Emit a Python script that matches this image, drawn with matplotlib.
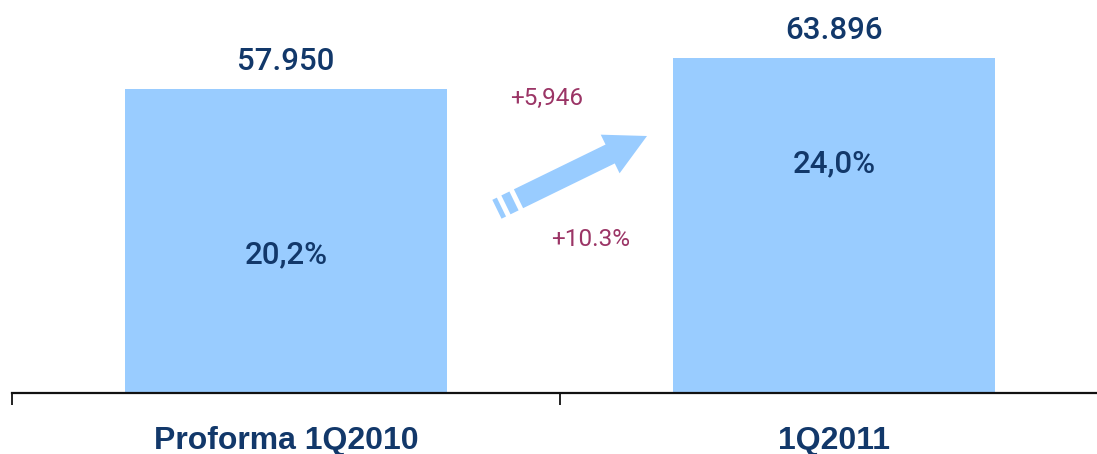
import matplotlib
matplotlib.use("Agg")
import matplotlib.pyplot as plt
import numpy as np
from matplotlib.patches import Polygon

# data
categories = ["Proforma 1Q2010", "1Q2011"]
values = [57950, 63896]
value_labels = ["57.950", "63.896"]
share_labels = ["20,2%", "24,0%"]
delta_abs = "+5,946"
delta_pct = "+10.3%"

# where the share text sits inside each bar (fraction of bar height)
share_pos = [0.455, 0.686]

bar_color = "#99CCFF"
navy = "#12386A"
plum = "#9B3566"

W, H = 1097, 454
fig = plt.figure(figsize=(W / 100, H / 100), dpi=100)
ax = fig.add_axes([12 / W, 61 / H, 1096 / W, 393 / H])

x = np.arange(len(categories))
ax.bar(x, values, width=0.588, color=bar_color, zorder=2)
ax.set_xlim(-0.5, 1.5)
ax.set_ylim(0, 75000)

for s in ["top", "right", "left"]:
    ax.spines[s].set_visible(False)
ax.spines["bottom"].set_linewidth(1.6)
ax.spines["bottom"].set_color("#111111")
ax.set_yticks([])
ax.set_xticks([-0.5, 0.5, 1.5])
ax.set_xticklabels([])
ax.tick_params(axis="x", length=8.5, width=1.3, color="#111111", direction="out")

# category labels under the axis
for xi, cat in zip(x, categories):
    ax.text(xi, -0.122, cat, transform=ax.get_xaxis_transform(), ha="center", va="center",
            fontsize=23, fontweight="bold", color=navy, family="Liberation Sans")

# value above each bar, share inside
for xi, v, lab, share, fr in zip(x, values, value_labels, share_labels, share_pos):
    ax.text(xi, v + 2600, lab, ha="center", va="bottom", fontsize=22.5,
            fontweight="medium", color=navy, family="Roboto")
    ax.text(xi, v * fr, share, ha="center", va="center", fontsize=22.5,
            fontweight="medium", color=navy, family="Roboto")

# overlay in pixel coordinates for the growth arrow
ov = fig.add_axes([0, 0, 1, 1])
ov.set_xlim(0, W)
ov.set_ylim(H, 0)
ov.axis("off")

tip = np.array([647.0, 136.0])
u = np.array([127.0, -62.0])
u /= np.linalg.norm(u)
n = np.array([-u[1], u[0]])


def pt(s, t):
    return tip - s * u + t * n


head = [pt(0, 0), pt(41, 21.5), pt(41, 10.5), pt(143, 10.5), pt(143, -10.5),
        pt(41, -10.5), pt(41, -21.5)]
ov.add_patch(Polygon(head, closed=True, color=bar_color, lw=0))
for s0, s1 in [(148, 157), (162, 167)]:
    ov.add_patch(Polygon([pt(s0, 10.5), pt(s1, 10.5), pt(s1, -10.5), pt(s0, -10.5)],
                         closed=True, color=bar_color, lw=0))

ov.text(547, 98, delta_abs, ha="center", va="center", fontsize=17.5,
        color=plum, family="Roboto")
ov.text(591, 240, delta_pct, ha="center", va="center", fontsize=17.5,
        color=plum, family="Roboto")

fig.savefig("out.png", dpi=100)
